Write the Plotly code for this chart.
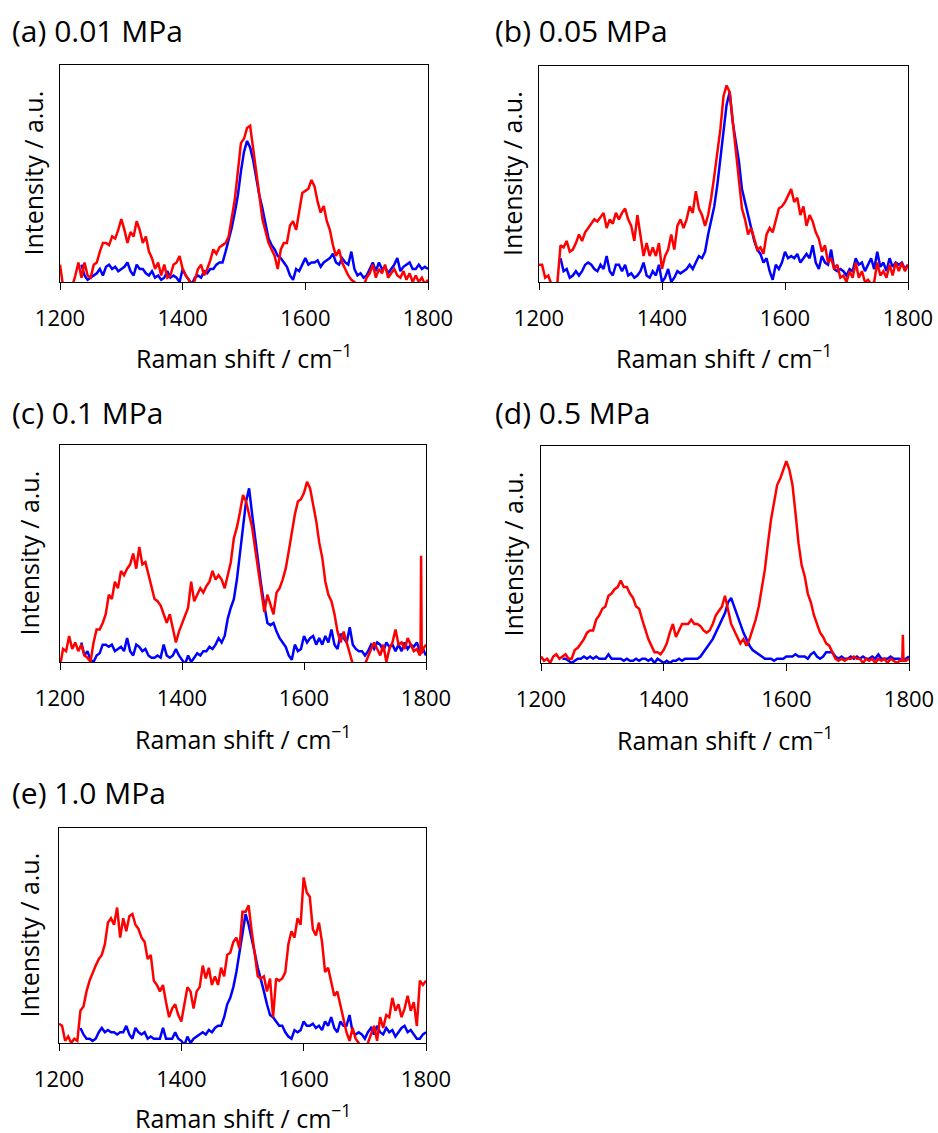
import plotly.graph_objects as go

# Raman shift grid (cm-1)
WN = list(range(1200, 1805, 5))
BLUE_START = 1235
TICKS = [1200, 1400, 1600, 1800]
TICK_TEXT = ["1200", "1400", "1600", "1800"]

titles = ["(a) 0.01 MPa", "(b) 0.05 MPa", "(c) 0.1 MPa", "(d) 0.5 MPa", "(e) 1.0 MPa"]

# ---- (a) 0.01 MPa ----
red_a = [8,-2,-2,-2,-2,3,9,2,9,3,
         2,8,9,14,18,18,17,21,20,24,
         29,24,18,23,21,28,24,18,21,14,
         11,6,9,3,8,2,3,8,9,12,
         6,3,1,-2,1,6,8,3,6,10,
         15,13,16,17,18,21,29,38,51,64,
         66,71,72,62,52,40,29,24,18,15,
         12,6,15,18,18,26,28,24,32,41,
         42,43,47,44,37,32,35,28,24,17,
         12,15,9,6,3,1,0,-2,-2,-2,
         2,4,8,2,6,4,8,2,4,6,
         3,2,5,1,4,0,3,0,2,-1,
         1]
blue_a = [8,3,1,
          2,3,4,6,3,7,8,6,7,5,
          6,7,9,5,3,8,6,6,4,3,
          5,2,3,1,2,5,2,3,2,0,
          6,3,1,-1,2,3,2,5,4,6,
          6,8,9,9,14,19,25,32,40,51,
          60,65,62,56,48,40,34,26,20,17,
          15,12,11,9,7,3,1,6,5,8,
          11,8,9,9,10,7,9,10,11,13,
          9,8,11,9,8,14,6,3,4,2,
          3,6,9,5,9,6,7,4,6,8,
          11,5,7,8,9,6,6,8,6,7,
          6]

# ---- (b) 0.05 MPa ----
red_b = [8,8,2,3,-1,-3,0,17,16,19,
         14,15,18,22,19,23,25,27,29,28,
         30,32,25,29,27,32,29,32,34,29,
         26,19,31,22,12,18,12,16,12,18,
         6,12,15,22,15,26,29,25,29,35,
         32,42,34,31,26,31,39,49,59,71,
         86,91,88,74,60,46,34,29,22,25,
         20,15,16,13,22,25,23,29,34,35,
         37,40,43,37,39,31,35,26,31,28,
         23,20,14,17,9,11,6,8,2,3,
         0,5,2,9,2,5,0,1,-1,0,
         9,3,5,2,8,3,9,5,9,5,
         8]
blue_b = [11,5,6,
          2,3,5,3,5,8,9,8,6,5,
          8,6,12,5,3,8,8,5,8,3,
          4,2,3,5,9,3,2,5,3,8,
          0,2,6,0,2,5,4,5,6,8,
          6,9,12,11,14,22,28,35,45,57,
          69,82,88,74,65,56,43,37,31,25,
          19,15,13,9,11,5,1,8,6,9,
          14,11,12,11,13,9,11,13,11,17,
          9,6,12,9,8,15,6,5,6,5,
          3,6,5,11,8,9,5,8,11,6,
          14,7,9,5,11,7,9,8,9,6,
          8]

# ---- (c) 0.1 MPa ----
red_c = [-2,6,5,12,6,9,5,8,3,2,
         0,9,15,15,18,22,31,29,37,34,
         42,40,43,45,50,43,53,45,46,40,
         35,29,28,26,22,18,22,15,9,14,
         18,22,25,37,28,31,34,32,35,37,
         42,38,40,38,34,40,46,57,62,69,
         77,74,68,62,52,43,34,23,31,26,
         22,32,34,38,43,51,60,68,74,75,
         78,83,80,72,65,55,48,37,31,28,
         22,14,9,14,9,3,-1,-2,-2,-2,
         -1,3,6,9,6,3,8,0,6,9,
         15,8,9,6,11,8,5,6,3,6,
         8]
red_c_spike_x = [1791, 1792, 1793]
red_c_spike_y = [4, 49, 4]
blue_c = [9,3,5,
          1,0,3,4,8,8,7,8,5,6,
          7,5,11,5,3,8,7,5,6,3,
          2,2,3,2,8,3,2,3,6,3,
          1,-1,3,0,2,4,3,5,5,7,
          6,8,11,9,12,20,25,29,38,49,
          62,74,80,68,57,45,35,26,18,17,
          18,14,11,9,7,3,1,8,5,6,
          12,9,11,12,8,11,8,12,9,15,
          8,6,13,11,9,16,8,6,5,5,
          3,5,8,6,9,8,5,9,7,8,
          5,8,5,9,6,8,7,9,5,6,
          3]

# ---- (d) 0.5 MPa ----
red_d = [3,1,2,0,3,4,2,3,4,2,
         2,6,7,9,11,14,15,15,20,22,
         25,26,31,32,34,35,38,35,35,32,
         30,26,25,20,15,11,8,5,5,4,
         6,9,14,18,12,15,18,18,18,20,
         18,18,17,15,14,15,18,22,24,26,
         31,25,18,15,12,9,11,8,11,15,
         20,26,35,43,55,66,74,82,85,89,
         93,89,82,69,55,45,40,32,28,22,
         18,14,12,9,8,5,2,1,2,1,
         2,2,3,2,2,0,2,1,2,0,
         2,1,2,0,2,1,0,1,2,1,
         2]
red_d_spike_x = [1789, 1790, 1791]
red_d_spike_y = [1, 13, 1]
blue_d = [2,2,1,
          0,1,2,2,3,2,3,2,3,2,
          2,2,4,2,2,2,2,1,2,1,
          1,2,1,2,2,1,2,0,2,1,
          0,1,0,1,1,2,1,2,2,2,
          2,2,3,5,7,9,11,14,17,20,
          23,28,30,26,22,17,14,11,8,6,
          5,4,3,2,2,2,1,2,2,2,
          3,3,3,4,3,3,3,2,4,5,
          3,2,3,5,5,5,3,2,3,2,
          2,3,2,3,2,3,2,2,3,2,
          4,2,2,2,3,2,2,2,1,2,
          3]

# ---- (e) 1.0 MPa ----
red_e = [9,8,1,3,0,2,1,15,17,24,
         29,33,36,39,41,46,56,58,55,63,
         49,58,52,59,60,55,53,49,47,39,
         41,29,27,24,27,19,12,16,18,13,
         10,18,26,24,16,24,26,36,30,35,
         27,31,27,35,31,41,42,47,49,44,
         61,61,64,52,42,31,30,31,24,30,
         12,30,29,30,33,46,52,49,58,55,
         77,70,68,53,50,56,47,33,35,29,
         22,24,18,12,5,1,7,2,0,-2,
         -2,0,4,8,1,12,7,13,12,21,
         15,18,12,16,22,15,19,8,29,27,
         29]
blue_e = [7,4,2,
          2,1,2,5,7,5,6,5,5,4,
          5,5,8,4,2,7,5,4,5,2,
          3,2,2,2,7,2,2,2,5,2,
          1,-1,3,0,2,3,4,5,4,6,
          5,7,8,8,12,18,21,26,33,42,
          50,60,55,49,42,35,30,24,18,13,
          12,10,8,8,5,3,2,6,5,6,
          10,8,8,9,7,8,6,10,8,12,
          7,5,10,8,8,13,5,4,5,4,
          2,5,7,4,8,5,4,7,5,6,
          3,5,7,8,5,6,4,2,2,4,
          5]

reds = [red_a, red_b, red_c, red_d, red_e]
blues = [blue_a, blue_b, blue_c, blue_d, blue_e]
spikes = {2: (red_c_spike_x, red_c_spike_y), 3: (red_d_spike_x, red_d_spike_y)}

W, H = 938, 1133
# plot areas in pixels (left, right, top, bottom)
boxes = [(60, 428, 65, 282), (539, 908, 66, 282), (60, 426, 445, 662),
         (541, 909, 446, 663), (59, 426, 828, 1043)]
title_pos = [(10, 30), (493, 30), (10, 412), (493, 412), (10, 792)]
ytitle_x = [32, 512, 28, 512, 28]
xtitle_gap = [75, 75, 75, 75, 73]

FONT = "'Open Sans', sans-serif"
RED = "#FF0000"
BLUE = "#0000FF"

fig = go.Figure()
blue_x = [w for w in WN if w >= BLUE_START]
annotations = []
layout = {}
for i in range(5):
    red = reds[i]
    blue = blues[i]
    assert len(red) == len(WN), (i, len(red))
    assert len(blue) == len(blue_x), (i, len(blue))
    pts = dict(zip(WN, red))
    if i in spikes:
        pts.update(dict(zip(*spikes[i])))
    rx = sorted(pts)
    ry = [pts[k] for k in rx]
    sfx = "" if i == 0 else str(i + 1)
    fig.add_trace(go.Scatter(x=blue_x, y=blue, mode="lines", line=dict(color=BLUE, width=2.5),
                             xaxis="x" + sfx, yaxis="y" + sfx, showlegend=False))
    fig.add_trace(go.Scatter(x=rx, y=ry, mode="lines", line=dict(color=RED, width=2.5),
                             xaxis="x" + sfx, yaxis="y" + sfx, showlegend=False))
    l, r, t, b = boxes[i]
    layout["xaxis" + sfx] = dict(
        domain=[l / W, r / W], anchor="y" + sfx, range=[1200, 1800], automargin=False,
        tickvals=TICKS, ticktext=TICK_TEXT, ticks="outside", ticklen=7, tickwidth=1,
        tickcolor="black", showline=True, linecolor="black", linewidth=1, mirror=True,
        showgrid=False, zeroline=False, ticklabelstandoff=10,
        tickfont=dict(family=FONT, size=22, color="black"),
    )
    layout["yaxis" + sfx] = dict(
        domain=[1 - b / H, 1 - t / H], anchor="x" + sfx, range=[0, 100], automargin=False,
        showticklabels=False, ticks="", showline=True, linecolor="black", linewidth=1,
        mirror=True, showgrid=False, zeroline=False,
    )
    annotations.append(dict(text=titles[i], x=title_pos[i][0] / W, y=1 - title_pos[i][1] / H,
                            xref="paper", yref="paper", xanchor="left", yanchor="middle",
                            showarrow=False, font=dict(family=FONT, size=30, color="black")))
    annotations.append(dict(text="Raman shift / cm<sup>−1</sup>", x=(l + r) / 2 / W,
                            y=1 - (b + xtitle_gap[i]) / H, xref="paper", yref="paper",
                            xanchor="center", yanchor="middle", showarrow=False,
                            font=dict(family=FONT, size=25, color="black")))
    annotations.append(dict(text="Intensity / a.u.", x=ytitle_x[i] / W, y=1 - (t + b) / 2 / H,
                            xref="paper", yref="paper", xanchor="center", yanchor="middle",
                            textangle=-90, showarrow=False,
                            font=dict(family=FONT, size=25, color="black")))

fig.update_layout(width=W, height=H, margin=dict(l=0, r=0, t=0, b=0, autoexpand=False),
                  paper_bgcolor="white", plot_bgcolor="white",
                  annotations=annotations, **layout)
fig.write_html("out.html", config={"displayModeBar": False},
               post_script="document.body.style.margin='0px';document.body.style.overflow='hidden';")
